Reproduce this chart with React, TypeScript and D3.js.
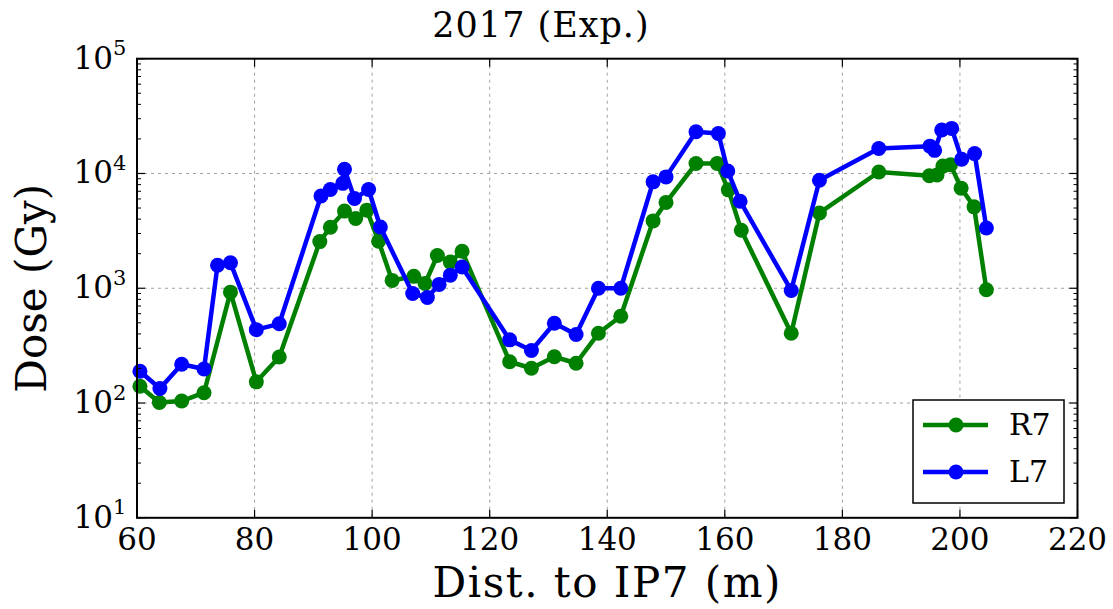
import React from "react";
import * as d3 from "d3";

const title = "2017 (Exp.)";
const xLabel = "Dist. to IP7 (m)";
const yLabel = "Dose (Gy)";
const xTicks = [60, 80, 100, 120, 140, 160, 180, 200, 220];
const yTickExps = [1, 2, 3, 4, 5];

const r7X = [60.5, 63.8, 67.6, 71.4, 75.9, 80.3, 84.2, 91.1, 92.9, 95.3, 97.2, 99.1, 101.1, 103.4, 107.1, 109.0, 111.1, 113.3, 115.3, 123.4, 127.1, 131.0, 134.7, 138.5, 142.3, 147.8, 150.0, 155.1, 158.7, 160.6, 162.8, 171.3, 176.1, 186.2, 194.8, 196.1, 197.1, 198.4, 200.2, 202.4, 204.5];
const r7Y = [140, 101, 104, 123, 925, 153, 252, 2550, 3400, 4700, 4050, 4790, 2570, 1170, 1270, 1100, 1930, 1690, 2100, 229, 201, 253, 222, 405, 570, 3860, 5600, 12200, 12200, 7200, 3200, 405, 4530, 10300, 9550, 9700, 11600, 11900, 7450, 5120, 970];

const l7X = [60.5, 63.9, 67.6, 71.4, 73.7, 75.9, 80.3, 84.2, 91.3, 92.9, 95.0, 95.3, 97.0, 99.4, 101.4, 106.9, 109.4, 111.4, 113.3, 115.3, 123.4, 127.1, 131.0, 134.7, 138.5, 142.3, 147.8, 150.0, 155.1, 158.9, 160.5, 162.6, 171.3, 176.1, 186.2, 194.9, 195.7, 196.9, 198.6, 200.3, 202.5, 204.5];
const l7Y = [189, 134, 218, 198, 1585, 1670, 436, 490, 6370, 7250, 8200, 10900, 6050, 7250, 3420, 900, 830, 1080, 1300, 1530, 355, 287, 495, 395, 1000, 1000, 8450, 9340, 23100, 22300, 10500, 5730, 956, 8740, 16500, 17300, 15900, 23900, 24700, 13300, 14900, 3350];

const seriesNames = ["R7", "L7"];
const seriesColors = ["#008000", "#0000ff"];

const W = 1113, H = 609;
const L = 137, R = 1077.5, T = 58.7, B = 517.8;
const FONT = "'DejaVu Serif', serif";

export default function App() {
  const x = d3.scaleLinear().domain([60, 220]).range([L, R]);
  const y = d3.scaleLog().domain([10, 1e5]).range([B, T]);
  const line = d3.line<[number, number]>().x(d => x(d[0])).y(d => y(d[1]));
  const series = [
    r7X.map((v, i) => [v, r7Y[i]] as [number, number]),
    l7X.map((v, i) => [v, l7Y[i]] as [number, number]),
  ];
  const minor: number[] = [];
  for (let e = 1; e < 5; e++) for (let k = 2; k <= 9; k++) minor.push(k * Math.pow(10, e));

  return (
    <svg width={W} height={H} style={{ position: "absolute", left: 0, top: 0, background: "#fff" }} fontFamily={FONT}>
      <rect x={0} y={0} width={W} height={H} fill="#fff" />
      {xTicks.slice(1, -1).map(t => (
        <line key={"gx" + t} x1={x(t)} x2={x(t)} y1={T} y2={B} stroke="#a0a0a0" strokeWidth={1} strokeDasharray="3,4" />
      ))}
      {yTickExps.slice(1, -1).map(e => (
        <line key={"gy" + e} x1={L} x2={R} y1={y(Math.pow(10, e))} y2={y(Math.pow(10, e))} stroke="#a0a0a0" strokeWidth={1} strokeDasharray="3,4" />
      ))}
      {series.map((s, i) => (
        <g key={seriesNames[i]}>
          <path d={line(s) || ""} fill="none" stroke={seriesColors[i]} strokeWidth={4.5} strokeLinejoin="round" />
          {s.map((p, j) => (
            <circle key={j} cx={x(p[0])} cy={y(p[1])} r={7.5} fill={seriesColors[i]} />
          ))}
        </g>
      ))}
      {xTicks.map(t => (
        <g key={"xt" + t}>
          <line x1={x(t)} x2={x(t)} y1={B} y2={B - 8} stroke="#000" strokeWidth={1.2} />
          <line x1={x(t)} x2={x(t)} y1={T} y2={T + 8} stroke="#000" strokeWidth={1.2} />
          <text x={x(t)} y={550} textAnchor="middle" fontSize={31} fill="#000">{t}</text>
        </g>
      ))}
      {yTickExps.map(e => {
        const yy = y(Math.pow(10, e));
        return (
          <g key={"yt" + e}>
            <line x1={L} x2={L + 8} y1={yy} y2={yy} stroke="#000" strokeWidth={1.2} />
            <line x1={R} x2={R - 8} y1={yy} y2={yy} stroke="#000" strokeWidth={1.2} />
            <text x={113} y={yy + 10} textAnchor="end" fontSize={31} fill="#000">10</text>
            <text x={113} y={yy - 3.5} textAnchor="start" fontSize={21} fill="#000">{e}</text>
          </g>
        );
      })}
      {minor.map(v => (
        <g key={"mn" + v}>
          <line x1={L} x2={L + 4} y1={y(v)} y2={y(v)} stroke="#000" strokeWidth={1} />
          <line x1={R} x2={R - 4} y1={y(v)} y2={y(v)} stroke="#000" strokeWidth={1} />
        </g>
      ))}
      <rect x={L} y={T} width={R - L} height={B - T} fill="none" stroke="#000" strokeWidth={2} />
      <g>
        <rect x={913} y={400} width={151} height={103} fill="#fff" stroke="#000" strokeWidth={1.5} />
        {seriesNames.map((n, i) => {
          const ly = 425 + i * 47;
          return (
            <g key={"lg" + n}>
              <line x1={923} x2={988} y1={ly} y2={ly} stroke={seriesColors[i]} strokeWidth={4.5} />
              <circle cx={956} cy={ly} r={7.5} fill={seriesColors[i]} />
              <text x={1009} y={ly + 10} fontSize={30} fill="#000">{n}</text>
            </g>
          );
        })}
      </g>
      <text x={541} y={37} textAnchor="middle" fontSize={35} letterSpacing={1} fill="#000">{title}</text>
      <text x={(L + R) / 2} y={597} textAnchor="middle" fontSize={42} letterSpacing={1.5} fill="#000">{xLabel}</text>
      <text transform={`translate(46, ${(T + B) / 2}) rotate(-90)`} textAnchor="middle" fontSize={42} fill="#000">{yLabel}</text>
    </svg>
  );
}
